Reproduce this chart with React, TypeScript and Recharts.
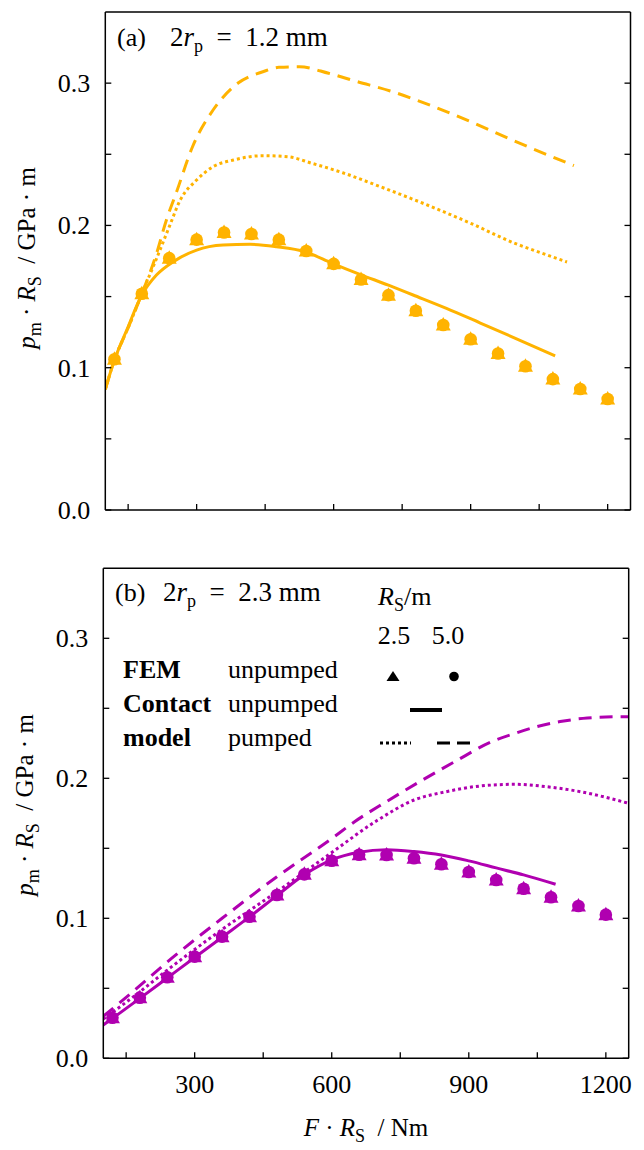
import React from 'react';
import { ComposedChart, Line, Scatter, XAxis, YAxis, Customized } from 'recharts';

const FONT = '"Liberation Serif", "Times New Roman", serif';
const ORANGE = '#FFB300';
const PURPLE = '#B000B0';

// FEM sample positions, F·R_S / Nm
const femX = [120, 180, 240, 300, 360, 420, 480, 540, 600, 660, 720, 780, 840, 900, 960, 1020, 1080, 1140, 1200];

// (a) 2r_p = 1.2 mm
const femA25 = [0.106, 0.152, 0.177, 0.190, 0.195, 0.194, 0.190, 0.182, 0.173, 0.162, 0.151, 0.140, 0.130, 0.120, 0.110, 0.101, 0.092, 0.085, 0.078];
const femA50 = [0.106, 0.152, 0.177, 0.190, 0.195, 0.194, 0.190, 0.182, 0.173, 0.162, 0.151, 0.140, 0.130, 0.120, 0.110, 0.101, 0.092, 0.085, 0.078];
const contactAX = [100, 120, 147, 180, 212, 249, 300, 358, 417, 475, 537, 597, 656, 720, 774, 847, 920, 993, 1085];
const contactAY = [0.0848, 0.1054, 0.1265, 0.1511, 0.1651, 0.1745, 0.1827, 0.1862, 0.1867, 0.1850, 0.1815, 0.1734, 0.1658, 0.1580, 0.1511, 0.1417, 0.1316, 0.1214, 0.1084];
const pumpA25X = [100, 120, 150, 180, 210, 240, 264, 300, 336, 381, 445, 499, 553, 620, 700, 800, 900, 1000, 1037, 1111];
const pumpA25Y = [0.0848, 0.1054, 0.128, 0.152, 0.175, 0.199, 0.2178, 0.2319, 0.2413, 0.246, 0.249, 0.2483, 0.2436, 0.237, 0.2275, 0.215, 0.2015, 0.187, 0.1827, 0.1743];
const pumpA50X = [100, 120, 150, 180, 210, 235, 255, 291, 336, 390, 445, 480, 525, 589, 652, 724, 815, 896, 995, 1126];
const pumpA50Y = [0.0848, 0.1054, 0.128, 0.152, 0.178, 0.205, 0.2226, 0.2553, 0.2811, 0.2999, 0.308, 0.3111, 0.3115, 0.3069, 0.301, 0.2945, 0.284, 0.2735, 0.2595, 0.242];

// (b) 2r_p = 2.3 mm
const femB25 = [0.029, 0.0433, 0.0579, 0.0726, 0.0869, 0.1011, 0.1166, 0.1314, 0.1411, 0.1454, 0.1452, 0.1429, 0.1386, 0.1331, 0.1274, 0.1211, 0.115, 0.1088, 0.1026];
const femB50 = [0.029, 0.0433, 0.0579, 0.0726, 0.0869, 0.1011, 0.1166, 0.1314, 0.1411, 0.1454, 0.1452, 0.1429, 0.1386, 0.1331, 0.1274, 0.1211, 0.115, 0.1088, 0.1026];
const contactBX = [100, 120, 180, 240, 300, 360, 420, 480, 540, 600, 660, 720, 780, 840, 900, 960, 1020, 1090];
const contactBY = [0.0238, 0.0285, 0.0428, 0.0574, 0.072, 0.0865, 0.101, 0.1162, 0.1312, 0.1418, 0.1472, 0.149, 0.1477, 0.1452, 0.141, 0.136, 0.131, 0.1243];
const pumpB25X = [100, 170, 240, 360, 480, 600, 700, 780, 850, 925, 1000, 1070, 1145, 1250];
const pumpB25Y = [0.028, 0.045, 0.063, 0.092, 0.119, 0.147, 0.170, 0.1845, 0.1904, 0.1945, 0.1957, 0.194, 0.1904, 0.1821];
const pumpB50X = [100, 150, 250, 360, 480, 600, 650, 718, 800, 870, 949, 1000, 1050, 1100, 1150, 1200, 1250];
const pumpB50Y = [0.030, 0.0435, 0.0715, 0.1, 0.1297, 0.157, 0.169, 0.183, 0.199, 0.212, 0.226, 0.232, 0.237, 0.2405, 0.2428, 0.2438, 0.244];

// axes
const xTicks = [150, 300, 450, 600, 750, 900, 1050, 1200];
const xTickLabels = [300, 600, 900, 1200];
const yTicks = [0, 0.05, 0.1, 0.15, 0.2, 0.25, 0.3];
const yTickLabels = [0, 0.1, 0.2, 0.3];
const xDomain: [number, number] = [100, 1250];
const yDomain: [number, number] = [0, 0.35];

const pts = (xs: number[], ys: number[]) => xs.map((x, i) => ({ x, y: ys[i] }));

const TL = 6;
const AX = { stroke: '#000', strokeWidth: 1.5 };

const BottomTick = (p: any) => {
  const { x, y, payload, showLabel } = p;
  const v = payload.value;
  return (
    <g>
      <line x1={x} y1={y} x2={x} y2={y - TL} stroke="#000" strokeWidth={1.3} />
      {showLabel && xTickLabels.includes(v) && (
        <text x={x} y={y + 34.5} textAnchor="middle" fontFamily={FONT} fontSize={26} fill="#000">{v}</text>
      )}
    </g>
  );
};
const TopTick = (p: any) => (
  <line x1={p.x} y1={p.y} x2={p.x} y2={p.y + TL} stroke="#000" strokeWidth={1.3} />
);
const LeftTick = (p: any) => {
  const { x, y, payload } = p;
  const v = payload.value;
  return (
    <g>
      <line x1={x} y1={y} x2={x + TL} y2={y} stroke="#000" strokeWidth={1.3} />
      {yTickLabels.includes(v) && (
        <text x={x - 15} y={y + 9} textAnchor="end" fontFamily={FONT} fontSize={26} fill="#000">{v.toFixed(1)}</text>
      )}
    </g>
  );
};
const RightTick = (p: any) => (
  <line x1={p.x} y1={p.y} x2={p.x - TL} y2={p.y} stroke="#000" strokeWidth={1.3} />
);

const circleShape = (color: string) => (p: any) => <circle cx={p.cx} cy={p.cy} r={6.3} fill={color} />;
const triShape = (color: string) => (p: any) => (
  <polygon points={`${p.cx},${p.cy - 8} ${p.cx - 7.5},${p.cy + 5.5} ${p.cx + 7.5},${p.cy + 5.5}`} fill={color} />
);

const Sub = ({ children }: { children: React.ReactNode }) => (
  <tspan fontSize={18} dy={6}>{children}</tspan>
);

const YTitle = ({ cx, cy }: { cx: number; cy: number }) => (
  <text transform={`translate(${cx},${cy}) rotate(-90)`} textAnchor="middle" fontFamily={FONT} fontSize={25} fill="#000">
    <tspan fontStyle="italic">p</tspan>
    <Sub>m</Sub>
    <tspan dy={-6}>{'\u00A0\u00B7\u00A0'}</tspan>
    <tspan fontStyle="italic">R</tspan>
    <Sub>S</Sub>
    <tspan dy={-6}>{'\u00A0\u00A0/\u00A0GPa\u00A0\u00B7\u00A0m'}</tspan>
  </text>
);

const PanelTitle = ({ x1, x2, y, tag, value }: { x1: number; x2: number; y: number; tag: string; value: string }) => (
  <g fontFamily={FONT} fontSize={26} fill="#000">
    <text x={x1} y={y}>{tag}</text>
    <text x={x2} y={y} fontSize={27}>
      2<tspan fontStyle="italic">r</tspan>
      <Sub>p</Sub>
      <tspan dy={-6}>{`\u2002=\u2002${value}\u00A0mm`}</tspan>
    </text>
  </g>
);

type PanelProps = {
  top: number;
  height: number;
  leftW: number;
  rightW: number;
  topH: number;
  bottomH: number;
  color: string;
  fem25: number[];
  fem50: number[];
  contact: { x: number; y: number }[];
  p25: { x: number; y: number }[];
  p50: { x: number; y: number }[];
  showXLabels: boolean;
  overlay: React.ReactNode;
};

const Panel = (pp: PanelProps) => (
  <div style={{ position: 'absolute', left: 0, top: pp.top }}>
    <ComposedChart width={644} height={pp.height} margin={{ top: 0, right: 0, bottom: 0, left: 0 }}>
      <XAxis
        xAxisId={0}
        dataKey="x"
        type="number"
        domain={xDomain}
        allowDataOverflow
        ticks={xTicks}
        interval={0}
        height={pp.bottomH}
        axisLine={AX}
        tickLine={false}
        tickSize={0}
        tickMargin={0}
        tick={<BottomTick showLabel={pp.showXLabels} />}
      />
      <XAxis
        xAxisId="top"
        orientation="top"
        type="number"
        domain={xDomain}
        allowDataOverflow
        ticks={xTicks}
        interval={0}
        height={pp.topH}
        axisLine={AX}
        tickLine={false}
        tickSize={0}
        tickMargin={0}
        tick={<TopTick />}
      />
      <YAxis
        yAxisId={0}
        type="number"
        domain={yDomain}
        allowDataOverflow
        ticks={yTicks}
        interval={0}
        width={pp.leftW}
        axisLine={AX}
        tickLine={false}
        tickSize={0}
        tickMargin={0}
        tick={<LeftTick />}
      />
      <YAxis
        yAxisId="right"
        orientation="right"
        type="number"
        domain={yDomain}
        allowDataOverflow
        ticks={yTicks}
        interval={0}
        width={pp.rightW}
        axisLine={AX}
        tickLine={false}
        tickSize={0}
        tickMargin={0}
        tick={<RightTick />}
      />
      <Line data={pp.contact} dataKey="y" type="monotone" stroke={pp.color} strokeWidth={3} dot={false} isAnimationActive={false} />
      <Line data={pp.p25} dataKey="y" type="monotone" stroke={pp.color} strokeWidth={3} strokeDasharray="3 3" dot={false} isAnimationActive={false} />
      <Line data={pp.p50} dataKey="y" type="monotone" stroke={pp.color} strokeWidth={3} strokeDasharray="13 8" dot={false} isAnimationActive={false} />
      <Scatter data={pts(femX, pp.fem25)} dataKey="y" shape={triShape(pp.color)} isAnimationActive={false} />
      <Scatter data={pts(femX, pp.fem50)} dataKey="y" shape={circleShape(pp.color)} isAnimationActive={false} />
      <Customized component={() => <g>{pp.overlay}</g>} />
    </ComposedChart>
  </div>
);

const LegendB = () => (
  <g fontFamily={FONT} fontSize={26} fill="#000">
    <text x={378} y={605}>
      <tspan fontStyle="italic">R</tspan>
      <Sub>S</Sub>
      <tspan dy={-6}>/m</tspan>
    </text>
    <text x={394} y={644} textAnchor="middle">2.5</text>
    <text x={448} y={644} textAnchor="middle">5.0</text>
    <text x={123} y={678} fontWeight="bold">FEM</text>
    <text x={228} y={678}>unpumped</text>
    <polygon points="393,671 386.5,681 399.5,681" fill="#000" />
    <circle cx={454} cy={676.5} r={4.8} fill="#000" />
    <text x={123} y={712} fontWeight="bold">Contact</text>
    <text x={228} y={712}>unpumped</text>
    <line x1={410} y1={710} x2={442} y2={710} stroke="#000" strokeWidth={4} />
    <text x={123} y={745.5} fontWeight="bold">model</text>
    <text x={228} y={745.5}>pumped</text>
    <line x1={380} y1={743} x2={411} y2={743} stroke="#000" strokeWidth={3} strokeDasharray="3 3" />
    <line x1={437} y1={743} x2={471} y2={743} stroke="#000" strokeWidth={3} strokeDasharray="13 7" />
  </g>
);

const XTitle = () => (
  <text x={366} y={1136} textAnchor="middle" fontFamily={FONT} fontSize={25} fill="#000">
    <tspan fontStyle="italic">F</tspan>
    <tspan>{'\u00A0\u00B7\u00A0'}</tspan>
    <tspan fontStyle="italic">R</tspan>
    <Sub>S</Sub>
    <tspan dy={-6}>{'\u00A0\u00A0/\u00A0Nm'}</tspan>
  </text>
);

export default function App() {
  return (
    <div style={{ position: 'absolute', left: 0, top: 0, width: 644, height: 1150, background: '#fff' }}>
      <Panel
        top={0}
        height={540}
        leftW={105.3}
        rightW={13.5}
        topH={12}
        bottomH={30}
        color={ORANGE}
        fem25={femA25}
        fem50={femA50}
        contact={pts(contactAX, contactAY)}
        p25={pts(pumpA25X, pumpA25Y)}
        p50={pts(pumpA50X, pumpA50Y)}
        showXLabels={false}
        overlay={
          <g>
            <PanelTitle x1={117} x2={170} y={46} tag="(a)" value="1.2" />
            <YTitle cx={35} cy={258} />
          </g>
        }
      />
      <Panel
        top={556}
        height={594}
        leftW={103.3}
        rightW={15.3}
        topH={12.3}
        bottomH={91.7}
        color={PURPLE}
        fem25={femB25}
        fem50={femB50}
        contact={pts(contactBX, contactBY)}
        p25={pts(pumpB25X, pumpB25Y)}
        p50={pts(pumpB50X, pumpB50Y)}
        showXLabels={true}
        overlay={
          <g transform="translate(0,-556)">
            <PanelTitle x1={115} x2={163} y={601} tag="(b)" value="2.3" />
            <LegendB />
            <YTitle cx={33} cy={805} />
            <XTitle />
          </g>
        }
      />
    </div>
  );
}
